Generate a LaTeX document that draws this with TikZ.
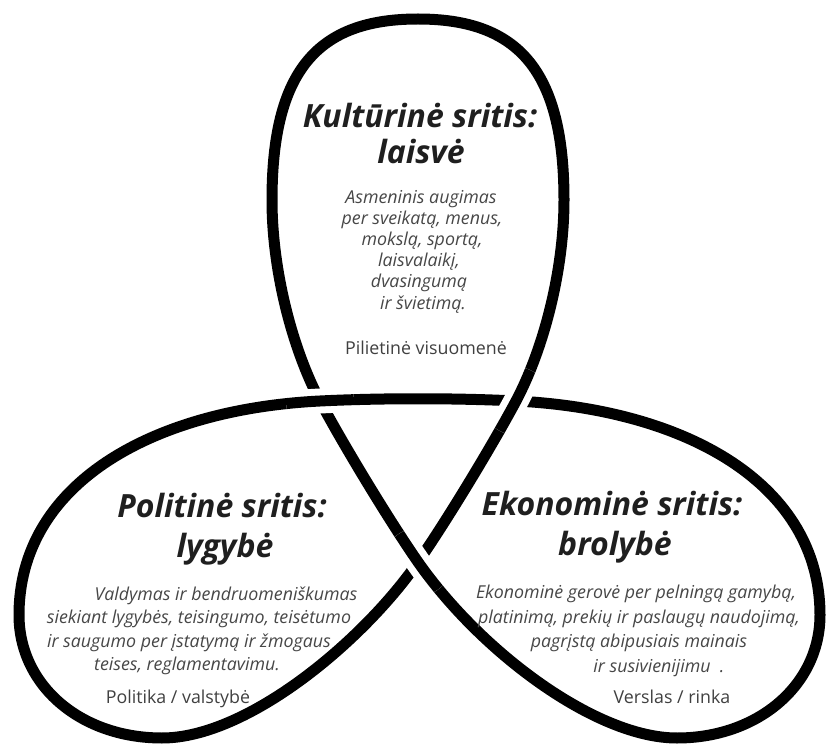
\documentclass[tikz,border=0pt]{standalone}
\usepackage{fontspec}
\setmainfont{Open Sans}
\begin{document}
\begin{tikzpicture}[x=1pt,y=-1pt,
  strand/.style={line width=11pt, line cap=butt, line join=round, black},
  gapband/.style={line width=25pt, line cap=butt, white},
  title/.style={font=\fontsize{32}{38}\selectfont\bfseries\itshape, text=black!88, anchor=base, inner sep=0pt},
  body/.style={font=\fontsize{17.8}{21}\selectfont\itshape, text=black!72, anchor=base, inner sep=0pt},
  foot/.style={font=\fontsize{17.8}{21}\selectfont, text=black!75, anchor=base, inner sep=0pt},
  % segments (without their start point)
  segA1/.style={insert path={.. controls (292,348) and (272,270) .. (272,200) .. controls (272,70) and (318,19) .. (418,19) .. controls (518,19) and (564,70) .. (564,200)}},
  segA2/.style={insert path={.. controls (564,270) and (544,348) .. (C2)}},
  segB/.style={insert path={.. controls (492.5,445) and (446.5,521) .. (C3)}},
  segC1/.style={insert path={.. controls (364,640) and (248,738) .. (162,738) .. controls (80,738) and (19,685) .. (19,615)}},
  segC2/.style={insert path={.. controls (19,485) and (150,409.5) .. (C1)}},
  segD/.style={insert path={.. controls (380,398) and (456,398) .. (C2)}},
  segE1/.style={insert path={.. controls (688,409.5) and (820,485) .. (820,615) .. controls (820,685) and (758,738) .. (677,738)}},
  segE2/.style={insert path={.. controls (596,738) and (481,652) .. (C3)}},
  segF/.style={insert path={.. controls (389.5,521) and (343.5,445) .. (C1)}}
]
\fill[white] (0,0) rectangle (828,746);
\useasboundingbox (0,0) rectangle (828,746);
\coordinate (C1) at (320,401);
\coordinate (C2) at (516,401);
\coordinate (C3) at (418,562);

% full knot as one closed stroke
\draw[strand] (C1) [segA1] [segA2] [segB] [segC1] [segC2] [segD] [segE1] [segE2] [segF] -- cycle;

% crossing C1: horizontal band passes over
\begin{scope}
  \clip (C1) circle [radius=34pt];
  \draw[gapband] (19,615) [segC2] [segD];
  \draw[strand] (19,615) [segC2] [segD];
\end{scope}
% crossing C2: diagonal passes over
\begin{scope}
  \clip (C2) circle [radius=34pt];
  \draw[gapband] (564,200) [segA2] [segB];
  \draw[strand] (564,200) [segA2] [segB];
\end{scope}
% crossing C3: descending strand passes over
\begin{scope}
  \clip (C3) circle [radius=34pt];
  \draw[gapband] (677,738) [segE2] [segF];
  \draw[strand] (677,738) [segE2] [segF];
\end{scope}

% top lobe
\node[title] (kt1) at (420,128) {Kultūrinė sritis:};
\node[title] (kt2) at (421,164) {laisvė};
\node[body] (kb1) at (421,204) {Asmeninis augimas};
\node[body] (kb2) at (422,225) {per sveikatą, menus,};
\node[body] (kb3) at (422,246) {mokslą, sportą,};
\node[body] (kb4) at (419,267) {laisvalaikį,};
\node[body] (kb5) at (419,288) {dvasingumą};
\node[body] (kb6) at (423,309) {ir švietimą.};
\node[foot] (kf) at (426,355) {Pilietinė visuomenė};

% left lobe
\node[title] (pt1) at (222,517) {Politinė sritis:};
\node[title] (pt2) at (225,557) {lygybė};
\node[body] (pb1) at (226,600) {Valdymas ir bendruomeniškumas};
\node[body] (pb2) at (199,623) {siekiant lygybės, teisingumo, teisėtumo};
\node[body] (pb3) at (189,647) {ir saugumo per įstatymą ir žmogaus};
\node[body] (pb4) at (187,670) {teises, reglamentavimu.};
\node[foot] (pf) at (178,703) {Politika / valstybė};

% right lobe
\node[title] (et1) at (612,515) {Ekonominė sritis:};
\node[title] (et2) at (615,555) {brolybė};
\node[body] (eb1) at (636,598) {Ekonominė gerovė per pelningą gamybą,};
\node[body] (eb2) at (639,623) {platinimą, prekių ir paslaugų naudojimą,};
\node[body] (eb3) at (639,647) {pagrįstą abipusiais mainais};
\node[body] (eb4) at (659,672) {ir susivienijimu~~.};
\node[foot] (ef) at (672,703) {Verslas / rinka};
\end{tikzpicture}
\end{document}
